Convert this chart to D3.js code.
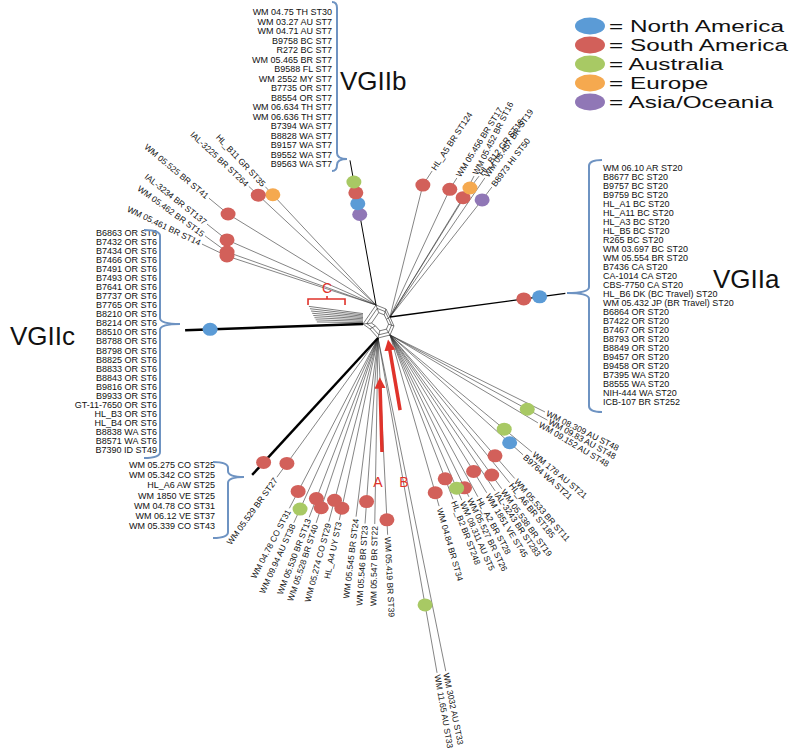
<!DOCTYPE html>
<html>
<head>
<meta charset="utf-8">
<script src="https://cdn.jsdelivr.net/npm/d3@7"></script>
<style>
  body { margin: 0; background: #fff; }
  text { font-family: "Liberation Sans", Arial, Helvetica, sans-serif; fill: #111; }
</style>
</head>
<body>
<svg id="chart" width="800" height="748"></svg>
<script>
// regions (legend order) and their colours
const regions = ['North America', 'South America', 'Australia', 'Europe', 'Asia/Oceania']
const regionColors = ['#5b9bd6', '#d2605a', '#a8c964', '#f5a94f', '#9077b6']

// isolates listed beside the big clusters
const vgiibIsolates = ['WM 04.75 TH ST30', 'WM 03.27 AU ST7', 'WM 04.71 AU ST7', 'B9758 BC ST7', 'R272 BC ST7',
  'WM 05.465 BR ST7', 'B9588 FL ST7', 'WM 2552 MY ST7', 'B7735 OR ST7', 'B8554 OR ST7', 'WM 06.634 TH ST7',
  'WM 06.636 TH ST7', 'B7394 WA ST7', 'B8828 WA ST7', 'B9157 WA ST7', 'B9552 WA ST7', 'B9563 WA ST7']
const vgiiaIsolates = ['WM 06.10 AR ST20', 'B8677 BC ST20', 'B9757 BC ST20', 'B9759 BC ST20', 'HL_A1 BC ST20',
  'HL_A11 BC ST20', 'HL_A3 BC ST20', 'HL_B5 BC ST20', 'R265 BC ST20', 'WM 03.697 BC ST20', 'WM 05.554 BR ST20',
  'B7436 CA ST20', 'CA-1014 CA ST20', 'CBS-7750 CA ST20', 'HL_B6 DK (BC Travel) ST20', 'WM 05.432 JP (BR Travel) ST20',
  'B6864 OR ST20', 'B7422 OR ST20', 'B7467 OR ST20', 'B8793 OR ST20', 'B8849 OR ST20', 'B9457 OR ST20',
  'B9458 OR ST20', 'B7395 WA ST20', 'B8555 WA ST20', 'NIH-444 WA ST20', 'ICB-107 BR ST252']
const vgiicIsolates = ['B6863 OR ST6', 'B7432 OR ST6', 'B7434 OR ST6', 'B7466 OR ST6', 'B7491 OR ST6', 'B7493 OR ST6',
  'B7641 OR ST6', 'B7737 OR ST6', 'B7765 OR ST6', 'B8210 OR ST6', 'B8214 OR ST6', 'B8510 OR ST6', 'B8788 OR ST6',
  'B8798 OR ST6', 'B8825 OR ST6', 'B8833 OR ST6', 'B8843 OR ST6', 'B9816 OR ST6', 'B9933 OR ST6',
  'GT-11-7650 OR ST6', 'HL_B3 OR ST6', 'HL_B4 OR ST6', 'B8838 WA ST6', 'B8571 WA ST6', 'B7390 ID ST49']
const st25Isolates = ['WM 05.275 CO ST25', 'WM 05.342 CO ST25', 'HL_A6 AW ST25', 'WM 1850 VE ST25',
  'WM 04.78 CO ST31', 'WM 06.12 VE ST37', 'WM 05.339 CO ST43']

// internal network vertices: angle (deg) and distance from the network centre
const hubs = [
  { id: 'L', ang: 174, dist: 0.191 },
  { id: 'T', ang: -109.4, dist: 0.18 },
  { id: 'Q', ang: -72.9, dist: 0.136 },
  { id: 'R', ang: -32, dist: 0.094 },
  { id: 'S', ang: 18.4, dist: 0.126 },
  { id: 'E', ang: 58.4, dist: 0.153 },
  { id: 'B', ang: 104, dist: 0.165 },
  { id: 'P', ang: 149.7, dist: 0.139 }
]

// terminal branches: hub, node angle, ST nodes [distance, region], tip distance (+ tip angle if it bends), label or cluster
const branches = [
  { hub: 'T', ang: -133.1, nodes: [[1.51, 3]], tip: 1.62, label: 'HL_B11 GR ST35' },
  { hub: 'T', ang: -137, nodes: [[1.61, 1]], tip: 1.74, label: 'IAL-3225 BR ST264' },
  { hub: 'T', ang: -148.4, nodes: [[1.737, 1]], tip: 1.983, tipAng: -147.4, label: 'WM 05.525 BR ST41' },
  { hub: 'T', ang: -156.4, nodes: [[1.626, 1]], tip: 1.874, tipAng: -154.4, label: 'IAL-3234 BR ST137' },
  { hub: 'T', ang: -160.4, nodes: [[1.581, 1]], tip: 1.844, tipAng: -158, label: 'WM 05.462 BR ST15' },
  { hub: 'T', ang: -161.8, nodes: [[1.569, 1]], tip: 1.844, tipAng: -160.7, label: 'WM 05.461 BR ST14' },
  { hub: 'T', ang: -100.2, nodes: [[0.92, 4], [1.03, 0], [1.14, 1], [1.25, 2]], tip: 1.47, cluster: 'VGIIb' },
  { hub: 'R', ang: -76, nodes: [[1.36, 1]], tip: 1.52, tipAng: -73.9, label: 'HL_A5 BR ST124' },
  { hub: 'R', ang: -64.9, nodes: [[1.41, 1]], tip: 1.543, tipAng: -64.3, label: 'WM 05.456 BR ST17' },
  { hub: 'R', ang: -58.5, nodes: [[1.40, 1]], tip: 1.641, tipAng: -59.2, label: 'WM 05.452 BR ST16' },
  { hub: 'R', ang: -58.2, nodes: [[1.518, 3]], tip: 1.667, tipAng: -57.7, label: 'HL_B12 GR ST18' },
  { hub: 'R', ang: -55.7, nodes: [], tip: 1.684, label: 'WM 05.457 BR ST19' },
  { hub: 'R', ang: -51.8, nodes: [[1.49, 4]], tip: 1.652, tipAng: -51.9, label: 'B8973 HI ST50' },
  { hub: 'R', ang: -7.7, nodes: [[1.35, 1], [1.51, 0]], tip: 1.77, cluster: 'VGIIa' },
  { hub: 'E', ang: 26.4, nodes: [], tip: 1.73, label: 'WM 08.309 AU ST48' },
  { hub: 'E', ang: 28.4, nodes: [[1.56, 2]], tip: 1.79, label: 'WM 09.83 AU ST48' },
  { hub: 'E', ang: 30.7, nodes: [], tip: 1.72, label: 'WM 09.152 AU ST48' },
  { hub: 'E', ang: 39.5, nodes: [[1.48, 2]], tip: 1.84, label: 'WM 178 AU ST21' },
  { hub: 'E', ang: 42, nodes: [[1.61, 0]], tip: 1.79, label: 'B9764 WA ST21' },
  { hub: 'E', ang: 49, nodes: [[1.60, 1]], tip: 1.90, label: 'WM 05.533 BR ST11' },
  { hub: 'E', ang: 51, nodes: [], tip: 1.90, label: 'HL_A6 BR ST185' },
  { hub: 'E', ang: 54, nodes: [[1.73, 1]], tip: 1.90, label: 'WM 05.538 BR ST19' },
  { hub: 'E', ang: 56, nodes: [], tip: 1.88, label: 'IAL-3243 BR ST283' },
  { hub: 'E', ang: 58.5, nodes: [[1.60, 1]], tip: 1.85, label: 'WM 1851 VE ST45' },
  { hub: 'E', ang: 61.5, nodes: [], tip: 1.84, label: 'HL_A2 BR ST28' },
  { hub: 'E', ang: 64, nodes: [[1.70, 1]], tip: 1.80, label: 'WM 05.527 BR ST26' },
  { hub: 'E', ang: 66.5, nodes: [[1.67, 2]], tip: 1.80, label: 'WM 08.311 AU ST5' },
  { hub: 'E', ang: 69, nodes: [[1.54, 1]], tip: 1.76, label: 'HL_B2 BR ST248' },
  { hub: 'E', ang: 74, nodes: [[1.64, 1]], tip: 1.78, label: 'WM 04.84 BR ST34' },
  { hub: 'B', ang: 78.5, nodes: [], tip: 3.40, label: 'WM 3032 AU ST33' },
  { hub: 'B', ang: 80, nodes: [[2.71, 2]], tip: 3.40, label: 'WM 11.65 AU ST33' },
  { hub: 'B', ang: 87.2, nodes: [[1.82, 1]], tip: 1.97, label: 'WM 05.419 BR ST39' },
  { hub: 'B', ang: 91, nodes: [], tip: 1.86, label: 'WM 05.547 BR ST22' },
  { hub: 'B', ang: 94, nodes: [[1.64, 1]], tip: 1.86, label: 'WM 05.546 BR ST23' },
  { hub: 'B', ang: 97, nodes: [], tip: 1.80, label: 'WM 05.545 BR ST24' },
  { hub: 'B', ang: 102, nodes: [[1.74, 1]], tip: 1.86, label: 'HL_A4 UY ST3' },
  { hub: 'B', ang: 105, nodes: [[1.68, 1]], tip: 1.90, label: 'WM 05.274 CO ST29' },
  { hub: 'B', ang: 108.5, nodes: [[1.79, 1]], tip: 1.95, label: 'WM 05.528 BR ST40' },
  { hub: 'B', ang: 111, nodes: [[1.72, 1]], tip: 1.92, label: 'WM 05.530 BR ST13' },
  { hub: 'B', ang: 114.5, nodes: [[1.88, 2]], tip: 2.03, label: 'WM 09.94 AU ST38' },
  { hub: 'B', ang: 117.5, nodes: [[1.73, 1]], tip: 1.92, label: 'WM 04.78 CO ST31' },
  { hub: 'B', ang: 126, nodes: [[1.55, 1]], tip: 1.72, label: 'WM 05.529 BR ST27' },
  { hub: 'B', ang: 132.6, nodes: [[1.69, 1]], tip: 1.86, cluster: 'ST25' },
  { hub: 'L', ang: 178, nodes: [[1.53, 0]], tip: 1.78, cluster: 'VGIIc' }
]

// red call-outs: arrow tail / tip and letter, as angle and distance from the centre
const arrows = [
  { label: 'A', tail: [90, 1.30], tip: [91.9, 0.61], text: [91.4, 1.65] },
  { label: 'B', tail: [78.4, 0.90], tip: [73.1, 0.24], text: [82.4, 1.665] }
]

const svg = d3.select('#chart')
const cx = 382, cy = 322
const r = d3.scaleLinear().domain([0, 1]).range([0, 100])
const color = d3.scaleOrdinal().domain(d3.range(regions.length)).range(regionColors)
const rad = d => d * Math.PI / 180
const polar = (o, ang, dist) => [o[0] + r(dist) * Math.cos(rad(ang)), o[1] + r(dist) * Math.sin(rad(ang))]
const centre = [cx, cy]
const hubPos = {}
hubs.forEach(h => { hubPos[h.id] = polar(centre, h.ang, h.dist) })
const line = d3.line()
const clusterWidth = { VGIIc: 2.4, ST25: 2.4, VGIIa: 1.3, VGIIb: 1 }

// network core: nested rings of splits
const net = svg.append('g').attr('fill', 'none').attr('stroke', '#222').attr('stroke-width', 0.6)
const ring = hubs.map(h => hubPos[h.id])
const shrink = k => ring.map(p => [cx + (p[0] - cx) * k, cy + (p[1] - cy) * k])
;[1, 0.8, 0.55].forEach(k => net.append('path').attr('d', line(shrink(k)) + 'Z'))
ring.forEach((p, i) => net.append('path').attr('d', line([p, shrink(0.55)[i]])))

// split band "C" running along the VGIIc edge
d3.range(1, 9).forEach(k => {
  const s = polar(hubPos.L, -90, k * 0.013)
  net.append('path').attr('d', line([s, polar(s, 180 + k * 0.95, 0.45 + k * 0.012)]))
})

// geometry of each branch
branches.forEach(b => {
  const o = hubPos[b.hub]
  b.nodePos = b.nodes.map(([d, reg]) => ({ p: polar(o, b.ang, d), reg }))
  b.tipPos = polar(o, b.tipAng === undefined ? b.ang : b.tipAng, b.tip)
  const from = b.tipAng === undefined || !b.nodePos.length ? o : b.nodePos[b.nodePos.length - 1].p
  b.labelAng = Math.atan2(b.tipPos[1] - from[1], b.tipPos[0] - from[0]) * 180 / Math.PI
  b.path = b.tipAng === undefined || !b.nodePos.length ? [o, b.tipPos] : [o, from, b.tipPos]
})

const g = svg.append('g')
branches.forEach(b => {
  g.append('path')
    .attr('d', line(b.path))
    .attr('fill', 'none')
    .attr('stroke', b.cluster ? '#000' : '#333')
    .attr('stroke-width', b.cluster ? clusterWidth[b.cluster] : 0.6)
})

// ST nodes
branches.forEach(b => {
  b.nodePos.forEach(n => {
    g.append('ellipse')
      .attr('cx', n.p[0]).attr('cy', n.p[1])
      .attr('rx', 7.5).attr('ry', 6.5)
      .attr('fill', color(n.reg))
  })
})

// leaf labels, rotated along the end of their branch
branches.filter(b => b.label).forEach(b => {
  const a = b.labelAng
  const p = [b.tipPos[0] + 2 * Math.cos(rad(a)), b.tipPos[1] + 2 * Math.sin(rad(a))]
  const right = Math.cos(rad(a)) >= 0
  g.append('text')
    .attr('transform', `translate(${p[0]},${p[1]}) rotate(${right ? a : a + 180})`)
    .attr('text-anchor', right ? 'start' : 'end')
    .attr('dy', '0.35em')
    .attr('font-size', 8.5)
    .text(b.label)
})

// curly brace
function bracePath(x, y0, y1, yc, dir, end, tip) {
  const q = 6
  return `M${x - dir * end},${y0} Q${x},${y0} ${x},${y0 + q} L${x},${yc - q} Q${x},${yc} ${x + dir * tip},${yc}` +
    ` Q${x},${yc} ${x},${yc + q} L${x},${y1 - q} Q${x},${y1} ${x - dir * end},${y1}`
}

const lists = [
  { items: vgiibIsolates, x: 332, y: 15, step: 9.5, anchor: 'end', brace: [337, 2, 171, 159, 1, 5, 10] },
  { items: vgiiaIsolates, x: 603, y: 171, step: 9.0, anchor: 'start', brace: [589, 160, 412, 293, -1, 13, 22] },
  { items: vgiicIsolates, x: 157, y: 236, step: 9.04, anchor: 'end', brace: [160, 230, 458, 324, 1, 16, 20] },
  { items: st25Isolates, x: 215, y: 468, step: 10.2, anchor: 'end', brace: [228, 462, 538, 477, 1, 15, 16] }
]
lists.forEach(l => {
  const y = d3.scaleLinear().domain([0, 1]).range([l.y, l.y + l.step])
  svg.append('g').selectAll('text').data(l.items).enter().append('text')
    .attr('x', l.x).attr('y', (d, i) => y(i))
    .attr('text-anchor', l.anchor)
    .attr('font-size', 9)
    .text(d => d)
  svg.append('path')
    .attr('d', bracePath(...l.brace))
    .attr('fill', 'none').attr('stroke', '#6e93c2').attr('stroke-width', 2)
})

// cluster names
const titles = [['VGIIb', 340, 90], ['VGIIa', 713, 288], ['VGIIc', 10, 345]]
svg.append('g').selectAll('text').data(titles).enter().append('text')
  .attr('x', d => d[1]).attr('y', d => d[2])
  .attr('font-size', 26)
  .text(d => d[0])

// legend
const legend = svg.append('g').attr('transform', 'translate(590,26)')
const ly = d3.scalePoint().domain(regions).range([0, 76])
regions.forEach((name, i) => {
  legend.append('ellipse').attr('cx', 0).attr('cy', ly(name)).attr('rx', 15).attr('ry', 8.5).attr('fill', color(i))
  legend.append('text')
    .attr('transform', `translate(19,${ly(name) + 6}) scale(1.43,1)`)
    .attr('font-size', 17)
    .text('= ' + name)
})

// red call-outs
const red = '#e0332b'
svg.append('defs').append('marker')
  .attr('id', 'head').attr('viewBox', '0 0 10 10').attr('refX', 5).attr('refY', 5)
  .attr('markerWidth', 3.2).attr('markerHeight', 3.2).attr('orient', 'auto')
  .append('path').attr('d', 'M0,0 L10,5 L0,10 Z').attr('fill', red)
arrows.forEach(a => {
  const t0 = polar(centre, ...a.tail), t1 = polar(centre, ...a.tip), tx = polar(centre, ...a.text)
  svg.append('path').attr('d', line([t0, t1]))
    .attr('stroke', red).attr('stroke-width', 3.5).attr('marker-end', 'url(#head)')
  svg.append('text').attr('x', tx[0]).attr('y', tx[1]).attr('text-anchor', 'middle')
    .attr('font-size', 14).style('fill', red).text(a.label)
})
// bracket C over the split band
const cMid = polar(centre, -157.3, 0.596)
const cb = svg.append('g').attr('stroke', red).attr('stroke-width', 1.6).attr('fill', 'none')
cb.append('path').attr('d', line([[cMid[0] - 19, cMid[1] + 6], [cMid[0] - 19, cMid[1]], [cMid[0] + 18, cMid[1]], [cMid[0] + 18, cMid[1] + 6]]))
cb.append('path').attr('d', line([[cMid[0], cMid[1]], [cMid[0], cMid[1] - 3]]))
svg.append('text').attr('x', cMid[0]).attr('y', cMid[1] - 6).attr('text-anchor', 'middle')
  .attr('font-size', 14).style('fill', red).text('C')
</script>
</body>
</html>
